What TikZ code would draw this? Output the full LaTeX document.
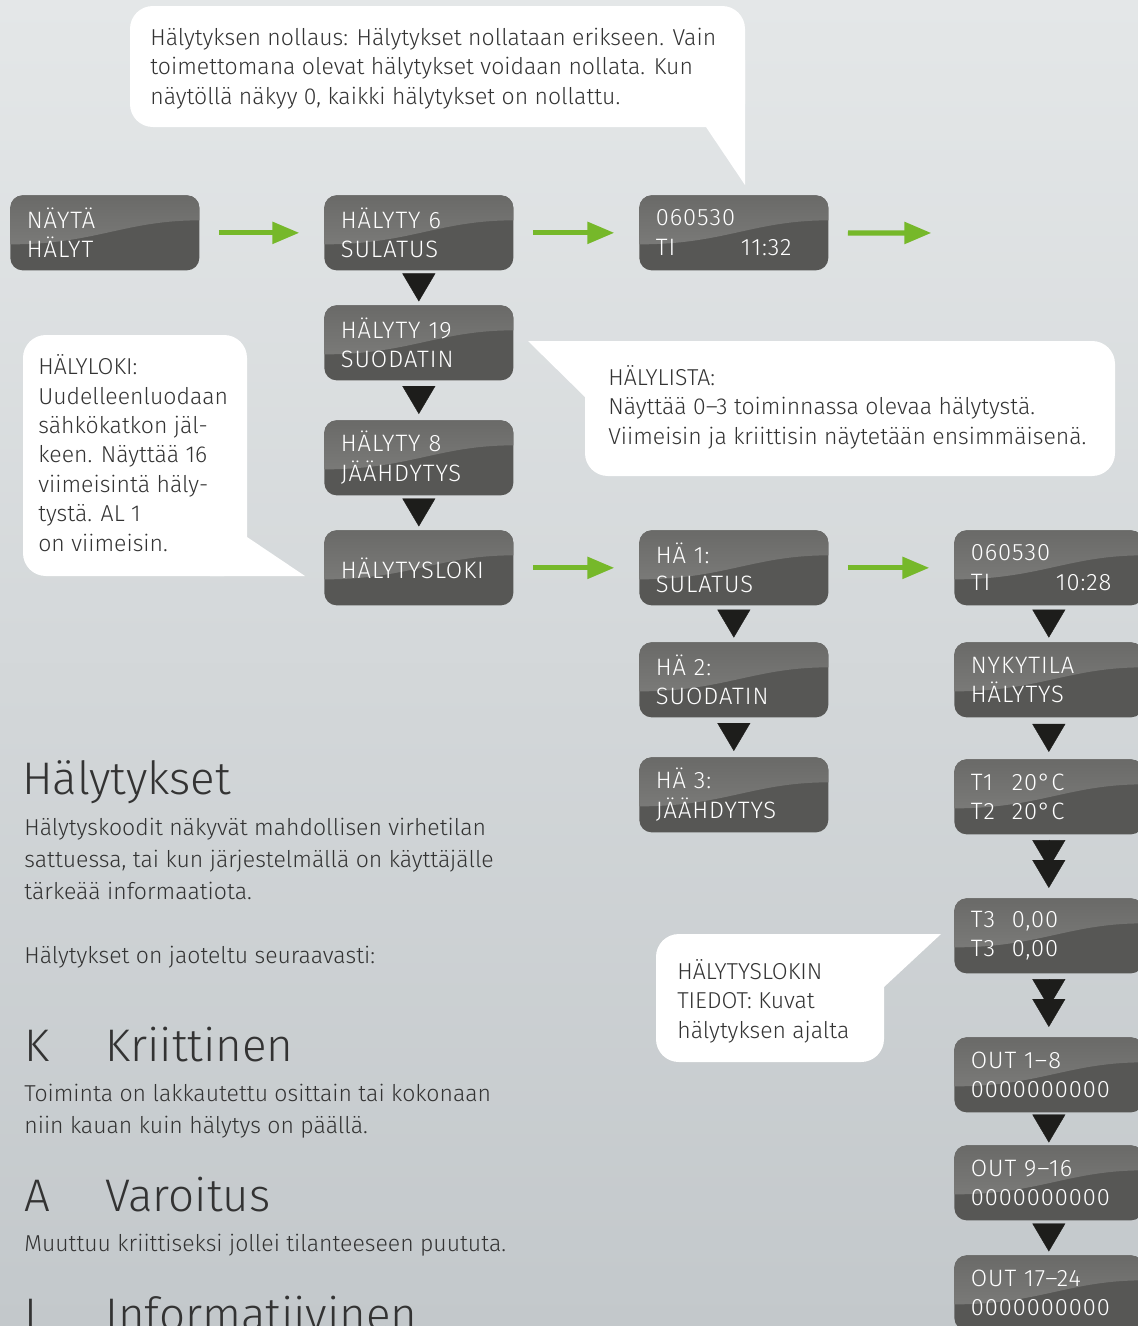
\documentclass[tikz,border=0pt]{standalone}
\usepackage{fontspec}
\setmainfont{Fira Sans}[UprightFont={* Light}]
\usetikzlibrary{arrows.meta,calc}

\definecolor{bgtop}{HTML}{E4E7E8}
\definecolor{bgbot}{HTML}{C3C8CB}
\definecolor{lcdbase}{HTML}{575755}
\definecolor{lcdtop}{HTML}{6A6A68}
\definecolor{lcdshine}{HTML}{828280}
\definecolor{flowgreen}{HTML}{76B82A}
\definecolor{tipblack}{HTML}{1D1D1B}
\definecolor{inkgrey}{HTML}{333333}

\begin{document}
\begin{tikzpicture}[
  x = 0.02cm, y = -0.02cm,
  lcd/.style = {fill=lcdbase, rounded corners=7pt, anchor=north west,
    text width=3.12cm, minimum height=1.5cm, inner xsep=0.33cm, inner ysep=0pt,
    align=left, text=white,
    font=\fontsize{13.5}{16.8}\selectfont\addfontfeatures{LetterSpace=4},
    path picture={\shade[sharp corners, top color=lcdtop, bottom color=lcdshine]
      (path picture bounding box.north west) -- (path picture bounding box.north east)
      -- ++(0,25) .. controls +(-75,0) and +(85,0) .. ($(path picture bounding box.north west)+(0,49)$)
      -- cycle;}},
  greenarrow/.style = {draw=flowgreen, line width=3pt,
    -{Triangle[length=0.54cm,width=0.42cm]}, shorten <=11pt, shorten >=14pt},
  droptip/.style = {draw=tipblack, line width=0.2pt,
    -{Triangle[length=0.56cm,width=0.66cm]}, shorten <=#1, shorten >=#1},
  bubble/.style = {fill=white, rounded corners=13pt},
  note/.style = {anchor=base west, inner sep=0pt, align=left, text=inkgrey,
    font=\fontsize{13.1}{16.7}\selectfont},
  body/.style = {anchor=base west, inner sep=0pt, align=left, text=inkgrey,
    font=\fontsize{13.1}{18.1}\selectfont},
  heading/.style = {anchor=base west, inner sep=0pt, text=inkgrey,
    font=\fontsize{26}{30}\selectfont},
  ]
  \useasboundingbox (0,0) rectangle (1138,1326);
  \shade[top color=bgtop, bottom color=bgbot] (0,0) rectangle (1138,1326);
  \clip (0,0) rectangle (1138,1326);

  % puhekuplat
  \fill[bubble] (130,6) rectangle (745,127);
  \fill[white] (706,127) -- (745,185) -- (745,60) -- cycle;
  \fill[bubble] (23,335) rectangle (247,576);
  \fill[white] (247,537) -- (305,576) -- (210,576) -- cycle;
  \fill[bubble] (585,341) rectangle (1115,476);
  \fill[white] (528,341) -- (630,341) -- (585,397) -- cycle;
  \fill[bubble] (656,934) rectangle (884,1062);
  \fill[white] (941,934) -- (840,934) -- (884,987) -- cycle;

  \node[note] (nollaus) at (150,104) {Hälytyksen nollaus: Hälytykset nollataan erikseen. Vain\\toimettomana olevat hälytykset voidaan nollata. Kun\\näytöllä näkyy 0, kaikki hälytykset on nollattu.};
  \node[note] (halyloki) at (38,551) {HÄLYLOKI:\\Uudelleenluodaan\\sähkökatkon jäl-\\keen. Näyttää 16\\viimeisintä häly-\\tystä. AL 1\\on viimeisin.};
  \node[note] (halylista) at (608,444) {HÄLYLISTA:\\Näyttää 0–3 toiminnassa olevaa hälytystä.\\Viimeisin ja kriittisin näytetään ensimmäisenä.};
  \node[note] (tiedot) at (677,1038) {HÄLYTYSLOKIN\\TIEDOT: Kuvat\\hälytyksen ajalta};

  % näytöt
  \node[lcd] (naytta) at (10,195) {NÄYTÄ\\HÄLYT};
  \node[lcd] (hal6) at (324,195) {HÄLYTY 6\\SULATUS};
  \node[lcd] (aika1) at (639,195) {060530\\\makebox[1.7cm][l]{TI}11:32};
  \coordinate (jatko) at (956,233);
  \node[lcd] (hal19) at (324,305) {HÄLYTY 19\\SUODATIN};
  \node[lcd] (hal8) at (324,420) {HÄLYTY 8\\JÄÄHDYTYS};
  \node[lcd] (loki) at (324,530) {HÄLYTYSLOKI};
  \node[lcd] (ha1) at (639,530) {HÄ 1:\\SULATUS};
  \node[lcd] (ha2) at (639,642) {HÄ 2:\\SUODATIN};
  \node[lcd] (ha3) at (639,757) {HÄ 3:\\JÄÄHDYTYS};
  \node[lcd] (aika2) at (954,530) {060530\\\makebox[1.7cm][l]{TI}10:28};
  \node[lcd] (nyky) at (954,642) {NYKYTILA\\HÄLYTYS};
  \node[lcd] (lampo12) at (954,759) {\makebox[0.82cm][l]{T1}20°C\\\makebox[0.82cm][l]{T2}20°C};
  \node[lcd] (lampo3) at (954,898) {\makebox[0.82cm][l]{T3}0,00\\\makebox[0.82cm][l]{T3}0,00};
  \node[lcd] (out1) at (954,1037) {OUT 1–8\\0000000000};
  \node[lcd] (out9) at (954,1145) {OUT 9–16\\0000000000};
  \node[lcd] (out17) at (954,1255) {OUT 17–24\\0000000000};

  \draw[greenarrow] (naytta) -- (hal6);
  \draw[greenarrow] (hal6) -- (aika1);
  \draw[greenarrow] (aika1) -- (jatko);
  \draw[greenarrow] (loki) -- (ha1);
  \draw[greenarrow] (ha1) -- (aika2);

  \draw[droptip=2pt] (hal6) -- (hal19);
  \draw[droptip=3.4pt] (hal19) -- (hal8);
  \draw[droptip=2pt] (hal8) -- (loki);
  \draw[droptip=2.5pt] (ha1) -- (ha2);
  \draw[droptip=3.4pt] (ha2) -- (ha3);
  \draw[droptip=2.5pt] (aika2) -- (nyky);
  \draw[droptip=4pt] (nyky) -- (lampo12);
  \draw[droptip=2.8pt, shorten >=17pt] (lampo12) -- (lampo3);
  \draw[droptip=5.7pt, shorten <=14.2pt] (lampo12) -- (lampo3);
  \draw[droptip=3.4pt, shorten >=17pt] (lampo3) -- (out1);
  \draw[droptip=5.7pt, shorten <=14.7pt] (lampo3) -- (out1);
  \draw[droptip=1.4pt] (out1) -- (out9);
  \draw[droptip=2pt] (out9) -- (out17);

  % selitys
  \node[heading] (otsikko) at (22,794) {Hälytykset};
  \node[body] (kuvaus) at (24,899) {Hälytyskoodit näkyvät mahdollisen virhetilan\\sattuessa, tai kun järjestelmällä on käyttäjälle\\tärkeää informaatiota.};
  \node[body] (jako) at (24,963) {Hälytykset on jaoteltu seuraavasti:};
  \node[heading] (kirjK) at (24,1061) {K};
  \node[heading] (nimiK) at (105,1061) {Kriittinen};
  \node[body] (tekstiK) at (24,1133) {Toiminta on lakkautettu osittain tai kokonaan\\niin kauan kuin hälytys on päällä.};
  \node[heading] (kirjA) at (24,1211) {A};
  \node[heading] (nimiA) at (105,1211) {Varoitus};
  \node[body] (tekstiA) at (24,1251) {Muuttuu kriittiseksi jollei tilanteeseen puututa.};
  \node[heading] (kirjI) at (24,1330) {I};
  \node[heading] (nimiI) at (105,1330) {Informatiivinen};
\end{tikzpicture}
\end{document}
